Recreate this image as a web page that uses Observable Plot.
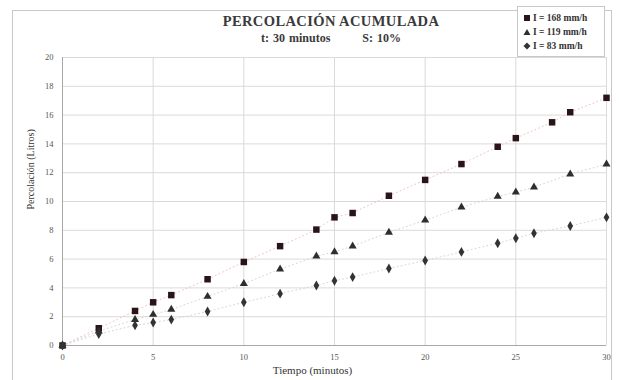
<!DOCTYPE html>
<html>
<head>
<meta charset="utf-8">
<script src="https://cdn.jsdelivr.net/npm/d3@7"></script>
<script src="https://cdn.jsdelivr.net/npm/@observablehq/plot@0.6"></script>
<style>
  html, body { margin: 0; padding: 0; background: #fff; }
  #wrap { position: relative; width: 619px; height: 380px; font-family: "Liberation Serif", "DejaVu Serif", serif; }
  #frame { position: absolute; left: 12px; top: 10px; width: 600px; height: 372px; border: 1px solid #c8c8c8; box-sizing: border-box; }
  #title { position: absolute; left: 62px; width: 538px; top: 13px; text-align: center; font-weight: bold; color: #3a3a3a; }
  #title .t1 { font-size: 14.5px; letter-spacing: 0.4px; }
  #title .t2 { font-size: 12px; margin-top: 1px; word-spacing: 1px; }
  #legend { position: absolute; left: 517px; top: 6px; width: 88px; height: 51px; border: 1px solid #c8c8c8; box-sizing: border-box; background: #fff; font-size: 9.5px; font-weight: bold; color: #333; padding: 4px 0 0 5px; line-height: 14px; white-space: nowrap; }
  #legend svg { vertical-align: -1px; margin-right: 2px; }
  #chart { position: absolute; left: 0; top: 0; }
</style>
</head>
<body>
<div id="wrap">
  <div id="frame"></div>
  <div id="chart"></div>
  <div id="title"></div>
  <div id="legend"></div>
</div>
<script>
const titleLine1 = "PERCOLACIÓN ACUMULADA";
const titleLine2 = "t: 30 minutos\u00a0\u00a0\u00a0\u00a0\u00a0\u00a0\u00a0\u00a0S: 10%";
const xLabel = "Tiempo (minutos)";
const yLabel = "Percolación (Litros)";
const seriesNames = ["I = 168 mm/h", "I = 119 mm/h", "I = 83 mm/h"];
const seriesSymbols = ["square", "triangle", "diamond"];
const seriesColors = ["#2a1418", "#2e2e2e", "#333333"];

const time168 = [0, 2, 4, 5, 6, 8, 10, 12, 14, 15, 16, 18, 20, 22, 24, 25, 27, 28, 30];
const perc168 = [0, 1.2, 2.4, 3.0, 3.5, 4.6, 5.8, 6.9, 8.05, 8.9, 9.2, 10.4, 11.5, 12.6, 13.8, 14.4, 15.5, 16.2, 17.2];
const time119 = [0, 2, 4, 5, 6, 8, 10, 12, 14, 15, 16, 18, 20, 22, 24, 25, 26, 28, 30];
const perc119 = [0, 1.0, 1.8, 2.15, 2.5, 3.4, 4.3, 5.3, 6.2, 6.5, 6.9, 7.85, 8.7, 9.6, 10.35, 10.65, 11.0, 11.9, 12.6];
const time83 = [0, 2, 4, 5, 6, 8, 10, 12, 14, 15, 16, 18, 20, 22, 24, 25, 26, 28, 30];
const perc83 = [0, 0.8, 1.4, 1.6, 1.8, 2.36, 3.0, 3.6, 4.17, 4.5, 4.75, 5.35, 5.9, 6.5, 7.1, 7.45, 7.8, 8.3, 8.9];

const xTicks = [0, 5, 10, 15, 20, 25, 30];
const yTicks = [0, 2, 4, 6, 8, 10, 12, 14, 16, 18, 20];

const rows = [];
[[time168, perc168], [time119, perc119], [time83, perc83]].forEach(([ts, ps], i) => {
  ts.forEach((t, j) => rows.push({ series: seriesNames[i], t, p: ps[j] }));
});

const chart = Plot.plot({
  width: 619,
  height: 380,
  marginLeft: 62,
  marginRight: 13,
  marginTop: 57,
  marginBottom: 35,
  style: { fontFamily: "Liberation Serif, DejaVu Serif, serif", fontSize: "8.5px", color: "#555", background: "transparent" },
  x: { domain: [0, 30], ticks: xTicks, tickSize: 0, tickPadding: 8, label: null },
  y: { domain: [0, 20], ticks: yTicks, tickSize: 0, tickPadding: 9, label: null },
  symbol: { domain: seriesNames, range: seriesSymbols },
  color: { domain: seriesNames, range: seriesColors },
  marks: [
    Plot.gridY(yTicks, { stroke: "#dadada", strokeOpacity: 1 }),
    Plot.gridX(xTicks, { stroke: "#dadada", strokeOpacity: 1 }),
    Plot.ruleX([0], { stroke: "#a8a8a8" }),
    Plot.ruleY([0], { stroke: "#a8a8a8" }),
    Plot.line(rows.filter(d => d.series === seriesNames[0]), { x: "t", y: "p", stroke: "#eec3ca", strokeWidth: 1, strokeDasharray: "1,3" }),
    Plot.line(rows.filter(d => d.series !== seriesNames[0]), { x: "t", y: "p", z: "series", stroke: "#d6d6d6", strokeWidth: 1, strokeDasharray: "1,3" }),
    Plot.dot(rows, { x: "t", y: "p", symbol: "series", fill: "series", r: d => d.series === seriesNames[0] ? 4.3 : 2.9 }),
    Plot.axisX(xTicks, { tickSize: 0, tickPadding: 8, label: null, fill: "#555" }),
    Plot.axisY(yTicks, { tickSize: 0, tickPadding: 9, label: null, fill: "#555" }),
    Plot.text([xLabel], { frameAnchor: "bottom", dx: -22, dy: 28, fontSize: 11, fill: "#333" }),
    Plot.text([yLabel], { frameAnchor: "left", dx: -32, dy: 8, rotate: -90, fontSize: 10, fill: "#333" })
  ]
});
document.getElementById("chart").appendChild(chart);

document.getElementById("title").innerHTML =
  `<div class="t1">${titleLine1}</div><div class="t2">${titleLine2}</div>`;

const symPath = {
  square: '<rect x="1" y="1" width="6" height="6"/>',
  triangle: '<polygon points="4,1 7.5,7 0.5,7"/>',
  diamond: '<polygon points="4,0.5 7.5,4 4,7.5 0.5,4"/>'
};
document.getElementById("legend").innerHTML = seriesNames.map((n, i) =>
  `<div><svg width="8" height="8" fill="${seriesColors[i]}">${symPath[seriesSymbols[i]]}</svg>${n}</div>`
).join("");
</script>
</body>
</html>
